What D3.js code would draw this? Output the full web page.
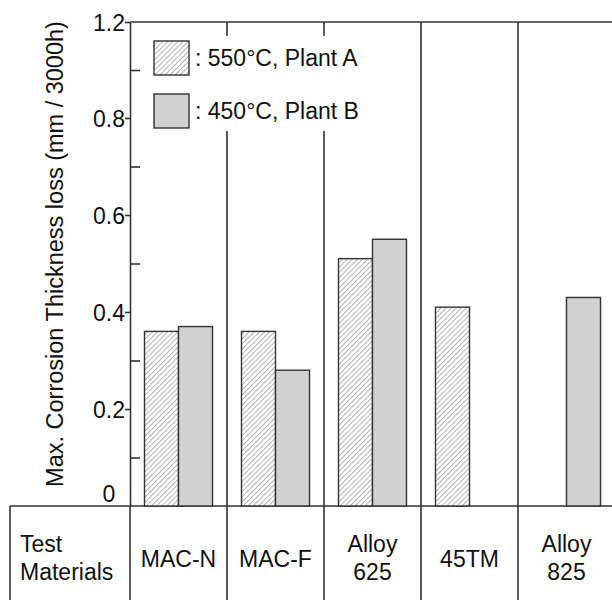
<!DOCTYPE html>
<html>
<head>
  <meta charset="UTF-8">
  <title>Max. Corrosion Thickness loss</title>
  <style>
    body { margin: 0; background: #fff; }
    svg text { font-family: "Liberation Sans", Arial, Helvetica, sans-serif; fill: #111; }
    .frame { stroke: #333; stroke-width: 1.6; fill: none; }
  </style>
</head>
<body>
<svg id="chart" width="612" height="600"></svg>

<script src="https://d3js.org/d3.v7.min.js"></script>
<script>
  // data
  const materials = ["MAC-N", "MAC-F", "Alloy 625", "45TM", "Alloy 825"];
  const materialLines = [["MAC-N"], ["MAC-F"], ["Alloy", "625"], ["45TM"], ["Alloy", "825"]];
  const series = ["550°C, Plant A", "450°C, Plant B"];
  const plantA = [0.36, 0.36, 0.51, 0.41, null];
  const plantB = [0.37, 0.28, 0.55, null, 0.43];
  const majorTicks = [0, 0.2, 0.4, 0.6, 0.8, 1.2];
  const minorTicks = [0.1, 0.3, 0.5, 0.7, 1.0];

  const svg = d3.select("#chart");
  const plotLeft = 130, plotRight = 615, plotTop = 22, zeroY = 506, tableLeft = 10, tableBottom = 605;

  // the axis is compressed above 0.8
  const y = d3.scaleLinear().domain([0, 0.8, 1.2]).range([zeroY, 118, plotTop]);
  const x = d3.scaleBand().domain(materials).range([plotLeft, plotRight]).padding(0);
  const barW = 34;
  const xs = d3.scaleBand().domain(series)
    .range([(x.step() - 2 * barW) / 2, (x.step() + 2 * barW) / 2]);

  // hatch pattern
  const defs = svg.append("defs");
  const pat = defs.append("pattern")
    .attr("id", "hatch")
    .attr("patternUnits", "userSpaceOnUse")
    .attr("width", 3.6).attr("height", 3.6)
    .attr("patternTransform", "rotate(45)");
  pat.append("rect").attr("width", 3.6).attr("height", 3.6).attr("fill", "#fff");
  pat.append("line").attr("x1", 0).attr("y1", 0).attr("x2", 0).attr("y2", 3.6)
    .attr("stroke", "#6a6a6a").attr("stroke-width", 1);

  const fills = ["url(#hatch)", "#d1d1d1"];

  // column separators (through plot and table)
  materials.slice(1).forEach(m => {
    svg.append("line").attr("class", "frame")
      .attr("x1", x(m)).attr("x2", x(m)).attr("y1", plotTop).attr("y2", tableBottom);
  });
  svg.append("line").attr("class", "frame")
    .attr("x1", plotRight).attr("x2", plotRight).attr("y1", plotTop).attr("y2", tableBottom);

  // top line
  svg.append("line").attr("class", "frame")
    .attr("x1", plotLeft).attr("x2", plotRight).attr("y1", plotTop).attr("y2", plotTop);

  // table frame
  svg.append("line").attr("class", "frame")
    .attr("x1", tableLeft).attr("x2", plotRight).attr("y1", zeroY).attr("y2", zeroY);
  svg.append("line").attr("class", "frame")
    .attr("x1", tableLeft).attr("x2", tableLeft).attr("y1", zeroY).attr("y2", tableBottom);
  svg.append("line").attr("class", "frame")
    .attr("x1", plotLeft).attr("x2", plotLeft).attr("y1", zeroY).attr("y2", tableBottom);

  // bars
  const rows = [];
  materials.forEach((m, i) => {
    [plantA[i], plantB[i]].forEach((v, j) => {
      if (v != null) rows.push({ m: m, s: series[j], v: v, j: j });
    });
  });
  svg.append("g").selectAll("rect")
    .data(rows)
    .join("rect")
    .attr("x", d => x(d.m) + xs(d.s))
    .attr("y", d => y(d.v))
    .attr("width", xs.bandwidth())
    .attr("height", d => zeroY - y(d.v))
    .attr("fill", d => fills[d.j])
    .attr("stroke", "#333")
    .attr("stroke-width", 1.4);

  // legend (white background hides the separators)
  const lg = svg.append("g");
  lg.append("rect").attr("x", 142).attr("y", 36).attr("width", 222).attr("height", 95).attr("fill", "#fff");
  series.forEach((s, j) => {
    const ly = 41 + j * 53;
    lg.append("rect").attr("x", 154).attr("y", ly).attr("width", 35).attr("height", 34)
      .attr("fill", fills[j]).attr("stroke", "#333").attr("stroke-width", 1.4);
    lg.append("text").attr("x", 195).attr("y", ly + 25)
      .attr("font-size", 23).text(": " + s);
  });

  // y axis
  const yAxis = svg.append("g")
    .attr("transform", "translate(" + plotLeft + ",0)")
    .call(d3.axisLeft(y).tickValues(majorTicks).tickSize(5).tickSizeOuter(0)
      .tickFormat(d => d === 0 ? "0" : d3.format(".1f")(d)));
  yAxis.select(".domain").attr("stroke", "#333").attr("stroke-width", 1.6);
  yAxis.selectAll(".tick line").attr("stroke", "#333").attr("stroke-width", 1.6);
  yAxis.selectAll(".tick text")
    .attr("x", -21).attr("text-anchor", "middle")
    .attr("font-size", 23)
    .attr("font-family", "Liberation Sans, Arial, sans-serif")
    .attr("fill", "#111")
    .attr("dy", d => d === 0 ? "-0.2em" : "0.36em");
  yAxis.selectAll(".tick").filter(d => d === 0).select("line").remove();

  const yMinor = svg.append("g")
    .attr("transform", "translate(" + plotLeft + ",0)")
    .call(d3.axisLeft(y).tickValues(minorTicks).tickSize(-10).tickFormat(""));
  yMinor.select(".domain").remove();
  yMinor.selectAll(".tick line").attr("stroke", "#333").attr("stroke-width", 1.6);

  svg.append("text")
    .attr("transform", "translate(63,254) rotate(-90)")
    .attr("text-anchor", "middle")
    .attr("font-size", 23.5)
    .text("Max. Corrosion Thickness loss (mm / 3000h)");

  // table texts
  svg.append("text").attr("x", 20).attr("y", 552).attr("font-size", 23).text("Test");
  svg.append("text").attr("x", 20).attr("y", 580).attr("font-size", 23).text("Materials");

  svg.append("g").selectAll("text")
    .data(materials)
    .join("text")
    .attr("text-anchor", "middle")
    .attr("font-size", 23)
    .attr("x", d => x(d) + x.bandwidth() / 2)
    .attr("y", (d, i) => materialLines[i].length > 1 ? 552 : 567)
    .each(function (d, i) {
      const t = d3.select(this);
      materialLines[i].forEach((ln, k) => {
        t.append("tspan").attr("x", x(d) + x.bandwidth() / 2).attr("dy", k === 0 ? 0 : 28).text(ln);
      });
    });
</script>
</body>
</html>
